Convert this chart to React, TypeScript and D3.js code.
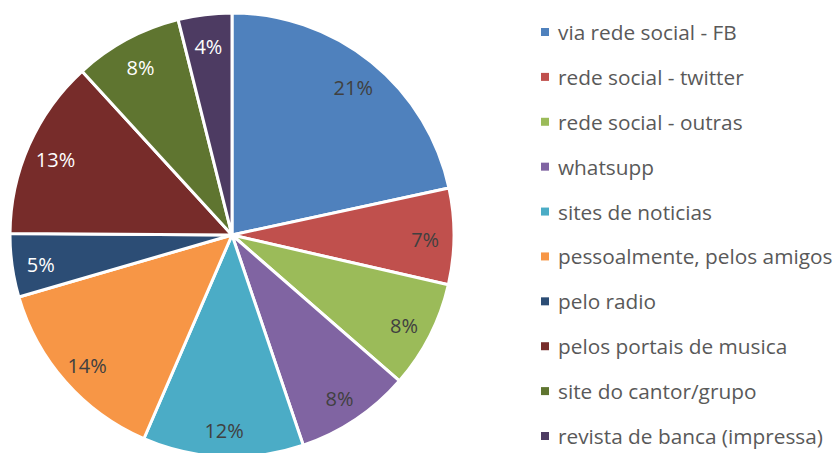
import React from "react";
import * as d3 from "d3";

const categories = [
  "via rede social - FB",
  "rede social - twitter",
  "rede social - outras",
  "whatsupp",
  "sites de noticias",
  "pessoalmente, pelos amigos",
  "pelo radio",
  "pelos portais de musica",
  "site do cantor/grupo",
  "revista de banca (impressa)",
];
const values = [21.6, 7.0, 7.8, 8.4, 11.7, 14.0, 4.6, 13.1, 7.9, 3.9];
const labels = ["21%", "7%", "8%", "8%", "12%", "14%", "5%", "13%", "8%", "4%"];
const colors = [
  "#4F81BD", "#C0504D", "#9BBB59", "#8064A2", "#4BACC6",
  "#F79646", "#2C4D75", "#772C2A", "#5F7530", "#4D3B62",
];
const labelColors = [
  "#404040", "#404040", "#404040", "#404040", "#404040",
  "#404040", "#ffffff", "#ffffff", "#ffffff", "#ffffff",
];

const W = 836;
const H = 453;
const cx = 232;
const cy = 235;
const R = 222;

export default function App() {
  const pie = d3.pie<number>().sort(null).value((d) => d);
  const arcs = pie(values);
  const arc = d3.arc<d3.PieArcDatum<number>>().innerRadius(0).outerRadius(R);
  const labelArc = d3.arc<d3.PieArcDatum<number>>().innerRadius(R * 0.87).outerRadius(R * 0.87);
  const legendY = d3.scaleLinear().domain([0, 9]).range([32, 436]);
  const font = "'Open Sans', sans-serif";
  return (
    <svg width={W} height={H} style={{ position: "absolute", left: 0, top: 0 }}>
      <rect width={W} height={H} fill="#ffffff" />
      <g transform={`translate(${cx},${cy})`}>
        {arcs.map((a, i) => (
          <path key={i} d={arc(a) || ""} fill={colors[i]} stroke="#ffffff" strokeWidth={3} strokeLinejoin="round" />
        ))}
        {arcs.map((a, i) => {
          const [x, y] = labelArc.centroid(a);
          return (
            <text key={i} x={x} y={y + 3} textAnchor="middle" dominantBaseline="central"
              fontFamily={font} fontSize={20} fill={labelColors[i]}>
              {labels[i]}
            </text>
          );
        })}
      </g>
      <g>
        {categories.map((c, i) => (
          <g key={i} transform={`translate(541,${legendY(i)})`}>
            <rect x={0} y={-4} width={8} height={8} fill={colors[i]} />
            <text x={17} y={0} dominantBaseline="central" fontFamily={font} fontSize={20.8} fill="#595959">
              {c}
            </text>
          </g>
        ))}
      </g>
    </svg>
  );
}
